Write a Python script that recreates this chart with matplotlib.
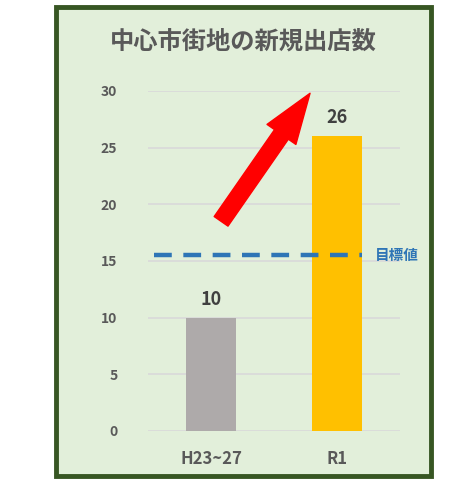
import matplotlib
matplotlib.use("Agg")
import matplotlib.pyplot as plt
from matplotlib.patches import Rectangle

plt.rcParams['font.family'] = ['Noto Sans CJK JP', 'DejaVu Sans']

categories = ["H23~27", "R1"]
values = [10, 26]
bar_colors = ["#AEAAAA", "#FFC000"]
target_value = 15.5
target_label = "目標値"
title = "中心市街地の新規出店数"
yticks = [0, 5, 10, 15, 20, 25, 30]

W, H = 468, 479
fig = plt.figure(figsize=(W/100, H/100), dpi=100)
fig.patch.set_facecolor("white")

# green panel with dark border
fig.patches.append(Rectangle((56/W, 1 - 476/H), (431-56)/W, (476-7)/H,
                             transform=fig.transFigure, facecolor="#E2EFDA",
                             edgecolor="#375623", linewidth=3.5, zorder=-10))

ax = fig.add_axes([148/W, 1 - 431/H, (400-148)/W, (431-91)/H])
ax.set_zorder(1)
ax.set_facecolor("none")
x = list(range(len(categories)))
ax.bar(x, values, width=0.4, color=bar_colors, zorder=3)
ax.set_xlim(-0.5, 1.5)
ax.set_ylim(0, 30)
ax.set_yticks(yticks)
ax.set_yticklabels([str(t) for t in yticks], fontsize=10, fontweight="bold", color="#595959")
ax.set_xticks(x)
ax.set_xticklabels(categories, fontsize=12, fontweight="bold", color="#595959")
ax.tick_params(length=0, axis="y", pad=22)
ax.tick_params(length=0, axis="x", pad=14)
for s in ax.spines.values():
    s.set_visible(False)
ax.grid(axis="y", color="#D9D9D9", linewidth=1.2, zorder=0)
ax.set_axisbelow(True)

for xi, v in zip(x, values):
    ax.text(xi, v + 0.8, str(v), ha="center", va="bottom", fontsize=13,
            fontweight="bold", color="#404040")

# target line
ax.plot([-0.45, 1.2], [target_value, target_value], linestyle=(0, (4, 2.6)),
        color="#2E75B6", linewidth=3.2, zorder=4, clip_on=False)
ax.text(1.3, target_value, target_label, ha="left", va="center", fontsize=10.5,
        fontweight="bold", color="#2E75B6", clip_on=False)

# red arrow
ax.annotate("", xy=(0.786, 29.8), xytext=(0.08, 18.5),
            arrowprops=dict(arrowstyle="simple,head_length=1.64,head_width=1.15,tail_width=0.55",
                            color="#FF0000", mutation_scale=22, shrinkA=0, shrinkB=0),
            zorder=5)

fig.text(243/W, 1 - 42/H, title, ha="center", va="center", fontsize=17.5,
         fontweight="bold", color="#595959")

fig.savefig("out.png", dpi=100)
